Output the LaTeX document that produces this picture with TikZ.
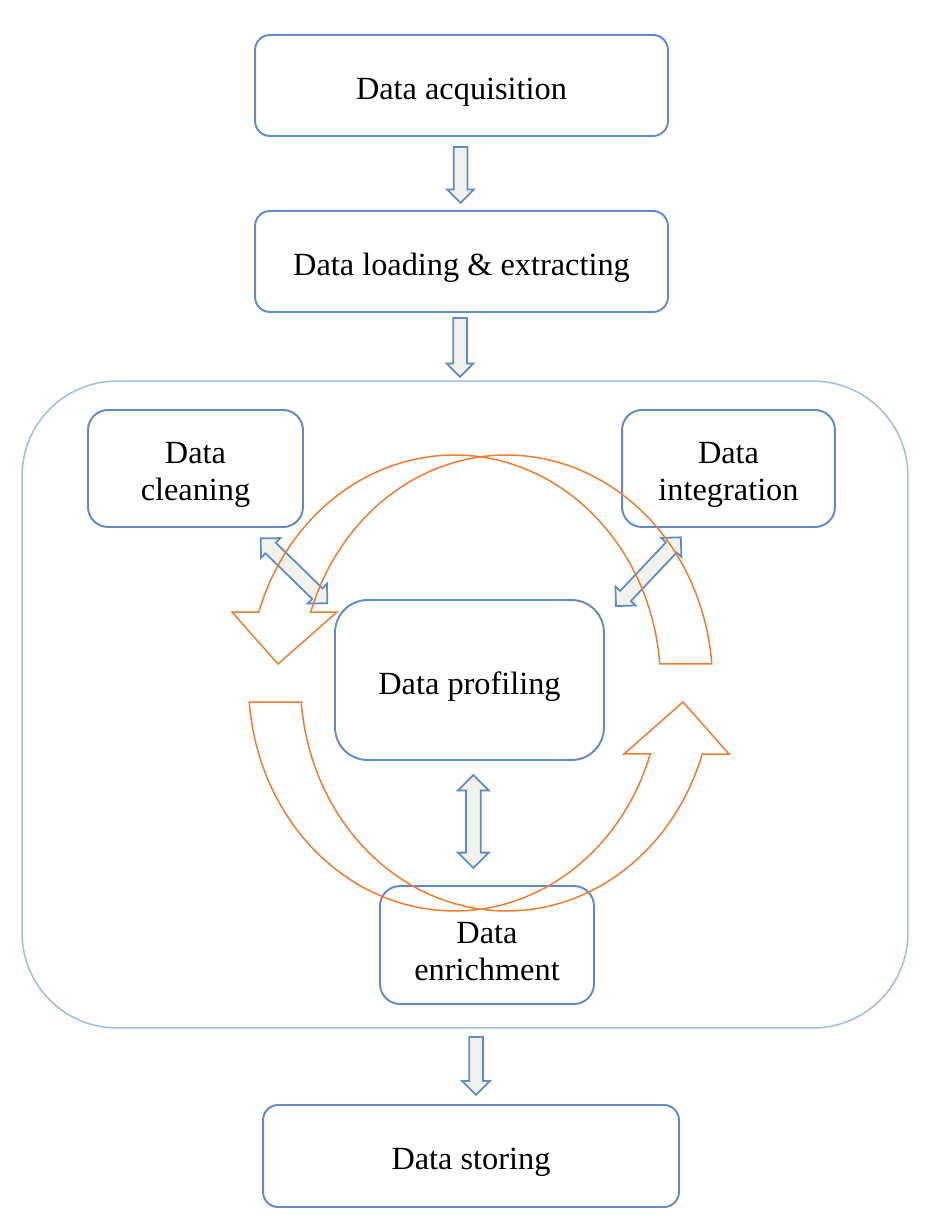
\documentclass[tikz,border=0pt]{standalone}
\usepackage{fontspec}
\setmainfont{Liberation Serif}
\usepackage{xcolor}
\usetikzlibrary{shapes.arrows}

\definecolor{boxblue}{RGB}{98,138,200}
\definecolor{paleblue}{RGB}{164,190,228}
\definecolor{loop}{RGB}{237,125,49}
\definecolor{arrfill}{RGB}{242,242,236}

\begin{document}
\begin{tikzpicture}[x=0.02cm, y=-0.02cm,
    stage/.style={draw=boxblue, line width=1.1pt, rounded corners=0.3cm,
      label={[align=center, yshift=-0.13cm, font=\fontsize{18.4}{21}\selectfont]center:#1}},
    dnarrow/.style={single arrow, draw=boxblue, fill=arrfill, line width=1pt, inner sep=0.12cm,
      shape border rotate=270, minimum width=0.5cm, single arrow head extend=0.13cm},
    biarrow/.style={double arrow, draw=boxblue, fill=arrfill, line width=1pt, inner sep=0.13cm,
      minimum width=0.52cm, double arrow head extend=0.13cm}]
    \useasboundingbox (0,0) rectangle (938,1222);

    % big frame round the loop
    \node[draw=paleblue, line width=0.9pt, rounded corners=1.9cm, minimum width=17.72cm, minimum height=12.94cm] (cont) at (465,704.5) {};

    \node[stage={Data acquisition}, minimum width=8.26cm, minimum height=2.02cm] (acq) at (461.5,85.5) {};
    \node[stage={Data loading \& extracting}, minimum width=8.26cm, minimum height=2.02cm] (load) at (461.5,261.5) {};

    \node[stage={Data\\cleaning}, rounded corners=0.4cm, minimum width=4.3cm, minimum height=2.34cm] (clean) at (195.5,468.5) {};
    \node[stage={Data\\integration}, rounded corners=0.4cm, minimum width=4.26cm, minimum height=2.34cm] (integ) at (728.5,468.5) {};
    \node[stage={Data profiling}, rounded corners=0.65cm, minimum width=5.38cm, minimum height=3.2cm] (prof) at (469.5,680) {};
    \node[stage={Data\\enrichment}, rounded corners=0.4cm, minimum width=4.28cm, minimum height=2.36cm] (enr) at (487,945) {};

    \node[stage={Data storing}, minimum width=8.32cm, minimum height=2.04cm] (store) at (471,1156) {};

    % block arrows
    \node[dnarrow, minimum height=1.12cm] (a1) at (460.5,171.5) {};
    \node[dnarrow, minimum height=1.18cm] (a2) at (460,344) {};
    \node[dnarrow, minimum height=1.16cm, minimum width=0.52cm, single arrow head extend=0.14cm] (a3) at (476,1062.5) {};

    \node[biarrow, rotate=-44.3, minimum height=1.86cm] (b1) at (294,570.8) {};
    \node[biarrow, rotate=46.7, minimum height=1.89cm] (b2) at (648.4,571.7) {};
    \node[biarrow, rotate=90, minimum height=1.86cm, minimum width=0.58cm, double arrow head extend=0.16cm] (b3) at (473.3,821.5) {};

    % the two round arrows
    \begin{scope}[shift={(480.5,683)}, draw=loop, line width=0.85pt]
    \draw plot[domain=-4.8:-161.9, samples=70] ({26+206*cos(\x)},{228*sin(\x)})
        -- (-143.5,-71) -- (-202.5,-19) -- (-248.5,-71) -- (-222.5,-71)
        -- plot[domain=-161.9:-4.8, samples=70] ({-26+206*cos(\x)},{228*sin(\x)}) -- cycle;
    \draw[rotate=180] plot[domain=-4.8:-161.9, samples=70] ({26+206*cos(\x)},{228*sin(\x)})
        -- (-143.5,-71) -- (-202.5,-19) -- (-248.5,-71) -- (-222.5,-71)
        -- plot[domain=-161.9:-4.8, samples=70] ({-26+206*cos(\x)},{228*sin(\x)}) -- cycle;
    \end{scope}
\end{tikzpicture}
\end{document}
